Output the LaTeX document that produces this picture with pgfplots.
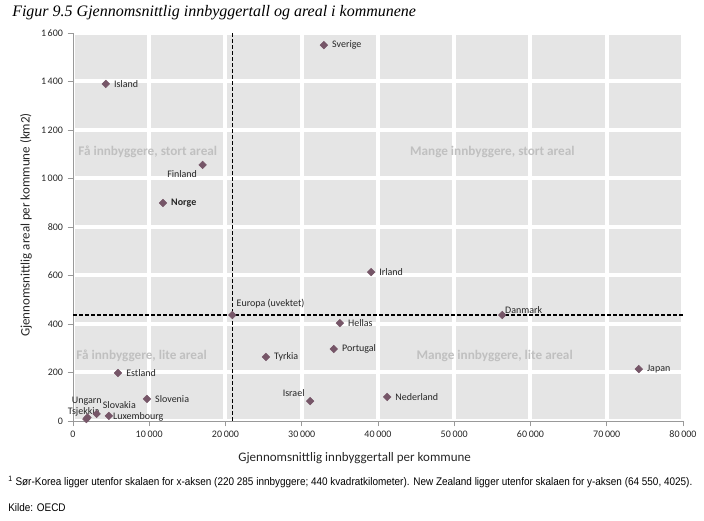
\documentclass[border=0pt]{standalone}
\usepackage{pgfplots}
\pgfplotsset{compat=1.18}
\usepackage{fontspec}
\setmainfont{Carlito}
\newfontfamily\titlefont{Liberation Serif}
\newfontfamily\notefont{Liberation Sans}
\definecolor{bg}{RGB}{229,229,229}
\definecolor{mk}{RGB}{118,86,104}
\definecolor{quad}{RGB}{192,192,192}
\definecolor{txt}{RGB}{38,38,38}
\begin{document}
\begin{tikzpicture}
\path[use as bounding box] (0,0) rectangle (528pt,390.75pt);
\begin{axis}[
  at={(54.75pt,75pt)}, anchor=south west,
  scale only axis, width=457.5pt, height=291pt,
  xmin=0, xmax=80000, ymin=0, ymax=1600,
  xtick={0,10000,...,80000}, ytick={0,200,...,1600},
  scaled x ticks=false, scaled y ticks=false,
  /pgf/number format/.cd, 1000 sep={\,}, assume math mode=true, /pgfplots/.cd,
  axis lines*=left,
  axis line style={-, gray!80},
  tick style={gray!80, line width=0.6pt},
  tick align=outside, major tick length=4pt,
  grid=major,
  major grid style={white, line width=3pt},
  axis background/.style={fill=bg},
  ticklabel style={font=\fontsize{7.5}{9}\selectfont, text=txt},
  clip=false,
]
\addplot[black, line width=1.1pt, dash pattern=on 3pt off 1.5pt] coordinates {(20900,0) (20900,1600)};
\addplot[black, line width=1.1pt, dash pattern=on 3pt off 1.5pt] coordinates {(0,437) (80000,437)};
\addplot[only marks, mark=square*, mark size=2pt, mark options={fill=mk, draw=mk, rotate=45}] coordinates {
(32900,1550) (4300,1390) (17000,1056) (11800,899) (39100,614) (20900,437)
(56300,437) (35000,404) (34200,297) (25300,264) (5900,198) (74200,214)
(9700,91) (31100,82) (41200,99) (3100,29) (4700,21) (1900,14) (1750,8)
};
\tikzset{lab/.style={font=\fontsize{7.5}{9}\selectfont, text=txt, inner sep=0pt}}
\node[lab, anchor=west] at (axis cs:32900,1550) [xshift=6pt] {Sverige};
\node[lab, anchor=west] at (axis cs:4300,1390) [xshift=6pt] {Island};
\node[lab, anchor=north east] at (axis cs:17000,1056) [xshift=-4pt, yshift=-4pt] {Finland};
\node[lab, anchor=west, font=\fontsize{7.5}{9}\selectfont\bfseries] at (axis cs:11800,899) [xshift=6pt] {Norge};
\node[lab, anchor=west] at (axis cs:39100,614) [xshift=6pt] {Irland};
\node[lab, anchor=south west] at (axis cs:20900,437) [xshift=3pt, yshift=5pt] {Europa (uvektet)};
\node[lab, anchor=south west] at (axis cs:56300,437) [xshift=2pt, yshift=1pt] {Danmark};
\node[lab, anchor=west] at (axis cs:35000,404) [xshift=6pt] {Hellas};
\node[lab, anchor=west] at (axis cs:34200,297) [xshift=6pt] {Portugal};
\node[lab, anchor=west] at (axis cs:25300,264) [xshift=6pt] {Tyrkia};
\node[lab, anchor=west] at (axis cs:5900,198) [xshift=6pt] {Estland};
\node[lab, anchor=west] at (axis cs:74200,214) [xshift=6pt] {Japan};
\node[lab, anchor=west] at (axis cs:9700,91) [xshift=6pt] {Slovenia};
\node[lab, anchor=south east] at (axis cs:31100,82) [xshift=-4pt, yshift=3pt] {Israel};
\node[lab, anchor=west] at (axis cs:41200,99) [xshift=6pt] {Nederland};
\node[lab, anchor=south west] at (axis cs:3100,29) [xshift=4.5pt, yshift=3.5pt] {Slovakia};
\node[lab, anchor=west] at (axis cs:4700,21) [xshift=3pt, yshift=-0.5pt] {Luxembourg};
\node[lab, anchor=center] at (axis cs:1800,80) {Ungarn};
\node[lab, anchor=center] at (axis cs:1400,38) {Tsjekkia};
\tikzset{ql/.style={font=\fontsize{9.9}{11}\selectfont\bfseries, text=quad}}
\node[ql] at (axis cs:9800,1110) {Få innbyggere, stort areal};
\node[ql] at (axis cs:55000,1110) {Mange innbyggere, stort areal};
\node[ql] at (axis cs:9000,270) {Få innbyggere, lite areal};
\node[ql] at (axis cs:55300,270) {Mange innbyggere, lite areal};
\end{axis}
\node[anchor=west, inner sep=0pt, font=\titlefont\itshape\fontsize{12}{14}\selectfont] at (9pt,381pt) {Figur 9.5 Gjennomsnittlig innbyggertall og areal i kommunene};
\node[font=\fontsize{9.75}{11}\selectfont, text=txt] at (266pt,47.25pt) {Gjennomsnittlig innbyggertall per kommune};
\node[rotate=90, font=\fontsize{9.75}{11}\selectfont, text=txt] at (19.5pt,222pt) {Gjennomsnittlig areal per kommune (km2)};
\node[anchor=west, inner sep=0pt, font=\notefont\fontsize{8.3}{9}\selectfont] at (6pt,29.25pt) {\scalebox{0.9}[1]{\textsuperscript{1} Sør-Korea ligger utenfor skalaen for x-aksen (220 285 innbyggere; 440 kvadratkilometer). New Zealand ligger utenfor skalaen for y-aksen (64 550, 4025).}};
\node[anchor=west, inner sep=0pt, font=\notefont\fontsize{8.3}{9}\selectfont] at (6pt,9.75pt) {\scalebox{0.9}[1]{Kilde: OECD}};
\end{tikzpicture}
\end{document}
